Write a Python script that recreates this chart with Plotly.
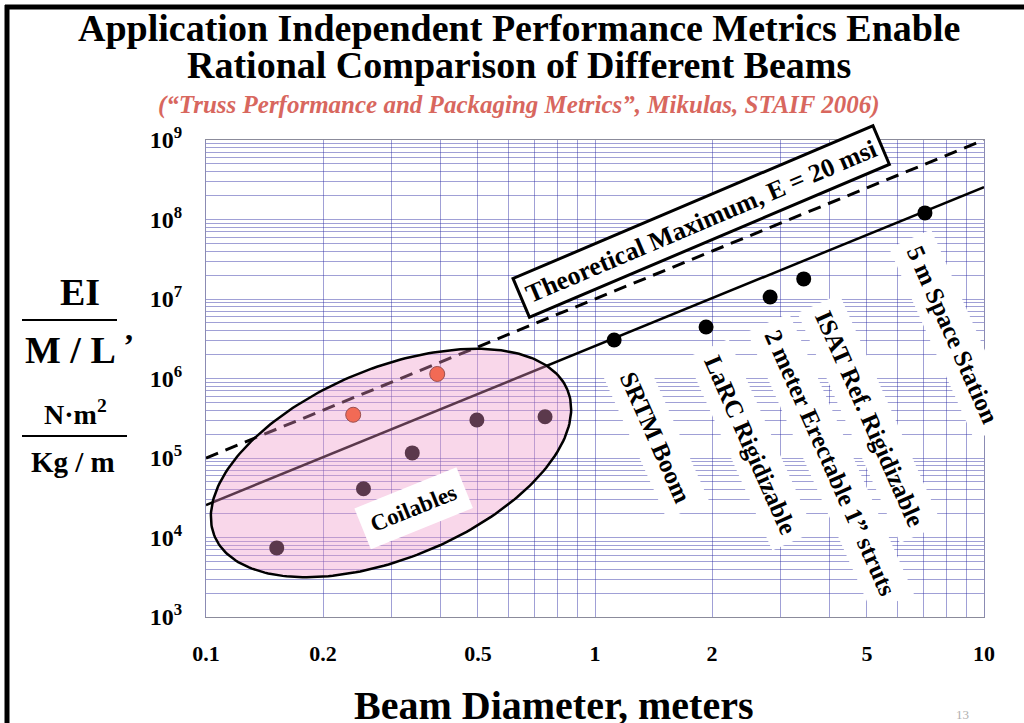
import numpy as np
import plotly.graph_objects as go

# coilable beams (inside the ellipse)
coil_dark_x = [0.152, 0.254, 0.339, 0.497, 0.744]
coil_dark_y = [7.4e3, 4.1e4, 1.16e5, 3.0e5, 3.3e5]
coil_red_x = [0.239, 0.393]
coil_red_y = [3.5e5, 1.14e6]

# rigidizable / erectable beams
rigid_names = ["SRTM Boom", "LaRC Rigidizable", "2 meter Erectable 1\u201d struts",
               "ISAT Ref. Rigidizable", "5 m Space Station"]
rigid_x = [1.12, 1.93, 2.82, 3.44, 7.05]
rigid_y = [3.05e6, 4.45e6, 1.06e7, 1.79e7, 1.21e8]

# trend line and theoretical maximum (E = 20 msi)
trend_x = [0.1, 10]
trend_y = [2.56e4, 2.56e8]
theory_x = [0.1, 10]
theory_y = [1e5, 1e9]

x_labels = {0.1: "0.1", 0.2: "0.2", 0.5: "0.5", 1: "1", 2: "2", 5: "5", 10: "10"}
y_exponents = [3, 4, 5, 6, 7, 8, 9]

# plot area in pixels
L, R, T, B = 206, 984, 140, 617
W, H = R - L, B - T


def px(x):
    return (x - L) / W


def py(y):
    return (B - y) / H


GRID = "rgba(45,45,165,0.45)"
SERIF = "Liberation Serif, Times New Roman, DejaVu Serif, serif"

fig = go.Figure()

fig.add_trace(go.Scatter(x=theory_x, y=theory_y, mode="lines",
                         line=dict(color="black", width=3, dash="13px,8px")))
fig.add_trace(go.Scatter(x=trend_x, y=trend_y, mode="lines",
                         line=dict(color="black", width=2.5)))
fig.add_trace(go.Scatter(x=coil_dark_x, y=coil_dark_y, mode="markers",
                         marker=dict(color="black", size=15)))
fig.add_trace(go.Scatter(x=rigid_x, y=rigid_y, mode="markers",
                         marker=dict(color="black", size=15)))

# coilables ellipse (tilted in screen space)
cx, cy, a, b, th = 391, 463, 191, 95, np.radians(22.5)
t = np.linspace(0, 2 * np.pi, 240)
dx = a * np.cos(t) * np.cos(th) - b * np.sin(t) * np.sin(th)
dy = a * np.cos(t) * np.sin(th) + b * np.sin(t) * np.cos(th)
ex = 10 ** (-1 + (cx + dx - L) / (W / 2))
ey = 10 ** (3 + (B - (cy - dy)) / (H / 6))
fig.add_trace(go.Scatter(x=ex, y=ey, mode="lines", fill="toself",
                         fillcolor="rgba(240,150,200,0.38)",
                         line=dict(color="black", width=2.5)))

fig.add_trace(go.Scatter(x=coil_red_x, y=coil_red_y, mode="markers",
                         marker=dict(color="#f26a55", size=15,
                                     line=dict(color="#9a5050", width=1))))

x_vals = [m * 10 ** e for e in (-1, 0) for m in range(1, 10)] + [10]
x_text = [x_labels.get(round(v, 1) if v < 1 else int(v), "") for v in x_vals]
y_vals = [m * 10 ** e for e in y_exponents[:-1] for m in range(1, 10)] + [1e9]
y_text = []
for v in y_vals:
    e = int(round(np.log10(v)))
    y_text.append(f"10<sup>{e}</sup>" if abs(np.log10(v) - e) < 1e-9 else "")

fig.update_xaxes(type="log", range=[-1, 1], tickmode="array",
                 tickvals=x_vals, ticktext=x_text,
                 showgrid=True, gridcolor=GRID, gridwidth=1,
                 showline=True, linecolor="rgba(110,110,130,0.8)", mirror=True,
                 zeroline=False, ticks="", ticklabelstandoff=17,
                 tickfont=dict(family=SERIF, size=22, color="black", weight="bold"))
fig.update_yaxes(type="log", range=[3, 9], tickmode="array",
                 tickvals=y_vals, ticktext=y_text,
                 showgrid=True, gridcolor=GRID, gridwidth=1,
                 showline=True, linecolor="rgba(110,110,160,0.8)", mirror=True,
                 zeroline=False, ticks="", ticklabelstandoff=18,
                 tickfont=dict(family=SERIF, size=24, color="black", weight="bold"))

ann = []


def text(x, y, s, size, color="black", bold=True, italic=False, **kw):
    ann.append(dict(x=px(x), y=py(y), xref="paper", yref="paper", text=s,
                    showarrow=False, xanchor="center", yanchor="middle",
                    font=dict(family=SERIF, size=size, color=color,
                              weight="bold" if bold else "normal",
                              style="italic" if italic else "normal"), **kw))


text(519, 28, "Application Independent Performance Metrics Enable", 38)
text(519, 65, "Rational Comparison of Different Beams", 38)
text(519, 105, "(\u201cTruss Performance and Packaging Metrics\u201d, Mikulas, STAIF 2006)",
     25, color="#d8675e", italic=True)
text(553, 705, "Beam Diameter, meters", 40)

# y axis fraction title
text(80, 292, "EI", 38)
text(70, 350, "M / L", 38)
text(129, 329, ",", 32)
text(75, 412, "N\u00b7m<sup>2</sup>", 28)
text(73, 462, "Kg / m", 29)

text(962, 714, "13", 13, color="#b0b0b0", bold=False)

# rotated labels
text(701, 221, "Theoretical Maximum, E = 20 msi", 26, textangle=-23,
     bgcolor="white", bordercolor="black", borderwidth=3, borderpad=5)
text(413, 508, "Coilables", 23, textangle=-22, bgcolor="white", borderpad=9)
label_pos = [(656, 437), (750, 445), (830, 463), (870, 418), (953, 334)]
for name, (lx, ly) in zip(rigid_names, label_pos):
    text(lx, ly, name, 25, textangle=66, bgcolor="white", borderpad=9)

shapes = [
    dict(type="line", xref="paper", yref="paper", x0=px(22), x1=px(117),
         y0=py(320), y1=py(320), line=dict(color="black", width=2)),
    dict(type="line", xref="paper", yref="paper", x0=px(22), x1=px(127),
         y0=py(436), y1=py(436), line=dict(color="black", width=2)),
    dict(type="line", xref="paper", yref="paper", x0=px(7), x1=px(7),
         y0=py(5), y1=py(723), line=dict(color="black", width=5)),
    dict(type="line", xref="paper", yref="paper", x0=px(5), x1=px(1024),
         y0=py(7), y1=py(7), line=dict(color="black", width=5)),
]

fig.update_layout(width=1024, height=723,
                  margin=dict(l=L, r=1024 - R, t=T, b=723 - B),
                  paper_bgcolor="white", plot_bgcolor="white",
                  showlegend=False, annotations=ann, shapes=shapes,
                  font=dict(family=SERIF))

fig.write_html("out.html", config={"displayModeBar": False},
               post_script="document.body.style.margin='0';")
